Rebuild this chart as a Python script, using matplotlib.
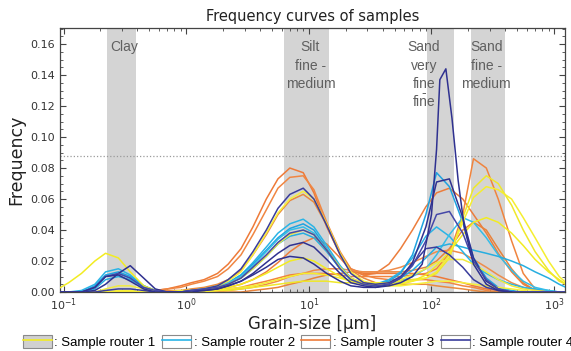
import matplotlib
matplotlib.use("Agg")
import matplotlib.pyplot as plt
from matplotlib.patches import Rectangle
from matplotlib.lines import Line2D
from matplotlib.ticker import AutoMinorLocator, LogLocator, NullFormatter
import numpy as np

# grain-size bins [um]
SIZES = [0.09, 0.11, 0.14, 0.18, 0.22, 0.28, 0.35, 0.45, 0.56, 0.7,
         0.9, 1.1, 1.4, 1.8, 2.2, 2.8, 3.5, 4.5, 5.6, 7,
         9, 11, 14, 18, 22, 28, 35, 45, 56, 70,
         90, 110, 140, 180, 220, 280, 350, 450, 560, 700,
         900, 1100, 1250]

# frequencies in per mille, one list per sample
ROUTER1 = [
    [2, 6, 12, 20, 25, 22, 13, 4, 1, 0, 0, 1, 1, 2, 3, 5, 8, 12, 16, 20,
     22, 20, 15, 10, 7, 5, 4, 4, 5, 7, 11, 17, 26, 37, 45, 48, 45, 38, 30, 21, 13, 8, 5],
    [0, 0, 0, 0, 0, 1, 1, 0, 0, 0, 1, 1, 2, 4, 7, 13, 24, 38, 51, 60,
     65, 60, 44, 25, 13, 7, 5, 4, 4, 5, 6, 7, 7, 6, 5, 4, 3, 2, 1, 0, 0, 0, 0],
    [0, 0, 0, 0, 0, 0, 0, 0, 0, 0, 0, 0, 0, 1, 1, 2, 3, 4, 5, 6,
     7, 7, 7, 6, 6, 6, 6, 6, 7, 8, 9, 12, 22, 48, 67, 75, 70, 56, 40, 26, 14, 7, 5],
    [0, 0, 0, 0, 0, 0, 0, 0, 0, 0, 0, 0, 1, 1, 2, 3, 4, 6, 8, 10,
     12, 12, 11, 9, 7, 6, 5, 5, 6, 7, 9, 13, 24, 45, 61, 68, 66, 60, 48, 35, 20, 10, 6],
    [0, 0, 0, 0, 2, 4, 4, 2, 0, 0, 0, 1, 2, 3, 5, 9, 15, 23, 31, 37,
     40, 37, 27, 16, 9, 6, 5, 6, 8, 11, 15, 19, 21, 21, 18, 13, 8, 4, 2, 1, 0, 0, 0],
]
ROUTER2 = [
    [0, 0, 1, 5, 13, 15, 11, 4, 1, 0, 0, 1, 2, 4, 6, 11, 19, 29, 38, 44,
     47, 42, 30, 17, 9, 5, 5, 8, 13, 22, 36, 42, 36, 26, 18, 12, 8, 5, 3, 2, 1, 0, 0],
    [0, 0, 0, 4, 11, 13, 10, 4, 1, 0, 0, 1, 2, 3, 6, 11, 18, 27, 35, 41,
     44, 40, 28, 16, 9, 5, 5, 7, 12, 24, 50, 77, 68, 45, 22, 9, 3, 1, 0, 0, 0, 0, 0],
    [0, 0, 0, 3, 10, 12, 9, 3, 1, 0, 0, 1, 2, 3, 6, 10, 17, 26, 34, 40,
     42, 38, 27, 15, 8, 5, 4, 5, 7, 10, 15, 24, 37, 48, 45, 35, 24, 14, 7, 3, 1, 0, 0],
    [0, 0, 0, 2, 8, 10, 8, 3, 1, 0, 0, 1, 2, 3, 5, 9, 15, 23, 31, 36,
     38, 35, 26, 15, 8, 5, 5, 6, 9, 14, 22, 29, 31, 29, 27, 25, 23, 20, 17, 13, 9, 5, 3],
]
ROUTER3 = [
    [0, 0, 0, 0, 0, 0, 0, 0, 1, 2, 4, 6, 8, 12, 18, 28, 42, 60, 73, 80,
     77, 64, 42, 24, 15, 12, 12, 12, 12, 12, 11, 10, 8, 6, 4, 2, 1, 0, 0, 0, 0, 0, 0],
    [0, 0, 0, 0, 0, 0, 0, 0, 1, 2, 3, 5, 7, 10, 15, 24, 37, 53, 67, 74,
     75, 66, 45, 26, 15, 11, 9, 8, 8, 8, 8, 7, 6, 4, 3, 1, 0, 0, 0, 0, 0, 0, 0],
    [0, 0, 0, 0, 0, 0, 0, 0, 0, 1, 1, 2, 3, 5, 8, 14, 24, 37, 50, 59,
     63, 58, 43, 25, 14, 9, 6, 5, 5, 5, 5, 4, 3, 2, 1, 0, 0, 0, 0, 0, 0, 0, 0],
    [0, 0, 0, 0, 0, 0, 0, 0, 0, 0, 0, 0, 1, 2, 3, 5, 8, 13, 19, 26,
     32, 35, 31, 22, 14, 11, 12, 18, 28, 40, 55, 64, 67, 60, 50, 38, 25, 13, 5, 1, 0, 0, 0],
    [0, 0, 0, 0, 0, 0, 0, 0, 0, 0, 0, 0, 0, 1, 2, 3, 5, 7, 9, 11,
     12, 12, 12, 11, 10, 10, 10, 10, 10, 11, 12, 15, 25, 50, 86, 80, 60, 33, 12, 2, 0, 0, 0],
    [0, 0, 0, 0, 0, 0, 0, 0, 0, 0, 0, 0, 0, 0, 0, 0, 1, 2, 3, 5,
     7, 9, 11, 12, 13, 13, 13, 13, 13, 14, 16, 20, 28, 40, 45, 40, 28, 15, 6, 1, 0, 0, 0],
    [0, 0, 0, 0, 0, 0, 0, 0, 0, 0, 0, 0, 0, 0, 1, 2, 3, 5, 7, 10,
     12, 14, 15, 15, 14, 13, 13, 14, 16, 19, 23, 26, 27, 25, 21, 16, 11, 6, 3, 1, 0, 0, 0],
]
ROUTER4 = [
    [0, 0, 0, 0, 1, 2, 2, 1, 0, 0, 0, 1, 2, 4, 8, 15, 26, 40, 54, 63,
     67, 60, 43, 24, 12, 6, 5, 6, 10, 18, 28, 29, 24, 16, 8, 3, 1, 0, 0, 0, 0, 0, 0],
    [0, 0, 0, 1, 5, 12, 17, 9, 2, 0, 0, 1, 1, 2, 4, 7, 12, 19, 25, 30,
     32, 29, 21, 12, 6, 4, 3, 5, 9, 19, 42, 71, 73, 48, 22, 7, 2, 0, 0, 0, 0, 0, 0],
    [0, 0, 0, 3, 10, 12, 9, 3, 1, 0, 0, 1, 2, 3, 5, 9, 16, 24, 32, 38,
     40, 37, 27, 15, 8, 5, 4, 5, 9, 17, 33, 50, 52, 38, 20, 8, 2, 0, 0, 0, 0, 0, 0],
]
# the narrow very-fine-sand sample of router 4 (finer bins round the peak)
SPIKE_SIZES = [0.09, 0.11, 0.14, 0.18, 0.22, 0.28, 0.35, 0.45, 0.56, 0.7,
               0.9, 1.1, 1.4, 1.8, 2.2, 2.8, 3.5, 4.5, 5.6, 7,
               9, 11, 14, 18, 22, 28, 35, 45, 56, 70,
               84, 100, 110, 117, 131, 147, 165, 185, 220, 280, 350, 450]
SPIKE_FREQ = [0, 0, 0, 3, 10, 11, 7, 2, 0, 0, 0, 0, 1, 2, 4, 7, 11, 16, 21, 23,
              22, 18, 12, 7, 4, 3, 3, 4, 6, 10, 18, 50, 92, 137, 144, 112, 72, 42, 18, 5, 1, 0]

BANDS = [(0.226, 0.39), (6.3, 14.6), (92, 153), (210, 398)]
BAND_LABELS = ["Clay", "Silt\nfine -\nmedium", "Sand\nvery\nfine\nfine", "Sand\nfine -\nmedium"]
BAND_LABEL_X = [0.31, 10.3, 87, 279]
REF_LEVEL = 0.088

LEGEND_LABELS = [": Sample router 1", ": Sample router 2", ": Sample router 3", ": Sample router 4"]

YELLOWS = ["#f2ec22", "#f7f03c", "#efe82a", "#f5ee30", "#f0ea40"]
CYANS = ["#2ab4e6", "#1fa3e0", "#35bde8", "#27aee0"]
ORANGES = ["#ee7a38", "#f08642", "#e98a3e", "#ec7d3c", "#f0843e", "#e8823a", "#ef8c4a"]
NAVIES = ["#3a3d9c", "#2f3190", "#4548a8", "#34369a"]

BAND_COLOR = "#d4d4d4"
TEXT_GRAY = "#606060"

fig = plt.figure(figsize=(5.71, 3.51), dpi=100)
ax = fig.add_axes([0.105, 0.168, 0.884, 0.752])

for (lo, hi) in BANDS:
    ax.axvspan(lo, hi, color=BAND_COLOR, lw=0, zorder=0)

ax.axhline(REF_LEVEL, color="#9a9a9a", ls=":", lw=0.9, zorder=1)

lw = 1.1
for curve, c in zip(ROUTER3, ORANGES):
    ax.plot(SIZES, np.array(curve) / 1000, color=c, lw=lw, zorder=2)
for curve, c in zip(ROUTER2, CYANS):
    ax.plot(SIZES, np.array(curve) / 1000, color=c, lw=lw, zorder=3)
for curve, c in zip(ROUTER1, YELLOWS):
    ax.plot(SIZES, np.array(curve) / 1000, color=c, lw=lw, zorder=4)
for curve, c in zip(ROUTER4, NAVIES):
    ax.plot(SIZES, np.array(curve) / 1000, color=c, lw=lw, zorder=5)
ax.plot(SPIKE_SIZES, np.array(SPIKE_FREQ) / 1000, color=NAVIES[1], lw=lw, zorder=5)

for x, lab in zip(BAND_LABEL_X, BAND_LABELS):
    ax.text(x, 0.1625, lab, ha="center", va="top", fontsize=10,
            family="Liberation Sans", color=TEXT_GRAY, linespacing=1.4, zorder=6)
ax.text(BAND_LABEL_X[2], 0.1285, "-", ha="center", va="center", fontsize=10,
        family="Liberation Sans", color=TEXT_GRAY, zorder=6)

ax.set_xscale("log")
ax.set_xlim(0.0935, 1220)
ax.set_ylim(0, 0.1703)
ax.set_yticks(np.arange(0, 0.161, 0.02))
ax.yaxis.set_minor_locator(AutoMinorLocator(4))
ax.xaxis.set_major_locator(LogLocator(base=10, numticks=10))
ax.xaxis.set_minor_locator(LogLocator(base=10, subs=np.arange(2, 10), numticks=20))
ax.xaxis.set_minor_formatter(NullFormatter())
ax.tick_params(which="both", direction="in", top=True, right=True,
               colors="#444444", labelcolor="#333333", labelsize=8)
ax.tick_params(which="major", length=4, width=0.8)
ax.tick_params(which="minor", length=2, width=0.6)
for s in ax.spines.values():
    s.set_color("#444444")
    s.set_linewidth(0.9)

ax.set_xlabel("Grain-size [µm]", fontsize=12, color="#222222", labelpad=1)
ax.set_ylabel("Frequency", fontsize=12.5, color="#222222", labelpad=4)
ax.set_title("Frequency curves of samples", fontsize=10.5, color="#222222", pad=5)

handles = [
    (Rectangle((0, 0), 1, 1, fc="#d0d0d0", ec="#8a8a8a", lw=0.8), Line2D([], [], color=YELLOWS[0], lw=1.2)),
    (Rectangle((0, 0), 1, 1, fc="white", ec="#8a8a8a", lw=0.8), Line2D([], [], color=CYANS[0], lw=1.2)),
    (Rectangle((0, 0), 1, 1, fc="white", ec="#8a8a8a", lw=0.8), Line2D([], [], color=ORANGES[0], lw=1.2)),
    (Rectangle((0, 0), 1, 1, fc="white", ec="#8a8a8a", lw=0.8), Line2D([], [], color=NAVIES[0], lw=1.2)),
]
fig.legend(handles, LEGEND_LABELS, loc="center", bbox_to_anchor=(0.522, 0.026), ncol=4,
           frameon=False, prop={"family": "Liberation Sans", "size": 9.5},
           handlelength=2.2, handleheight=1.1, handletextpad=0.2, columnspacing=0.5,
           borderaxespad=0, borderpad=0)

fig.savefig("out.png", dpi=100)
